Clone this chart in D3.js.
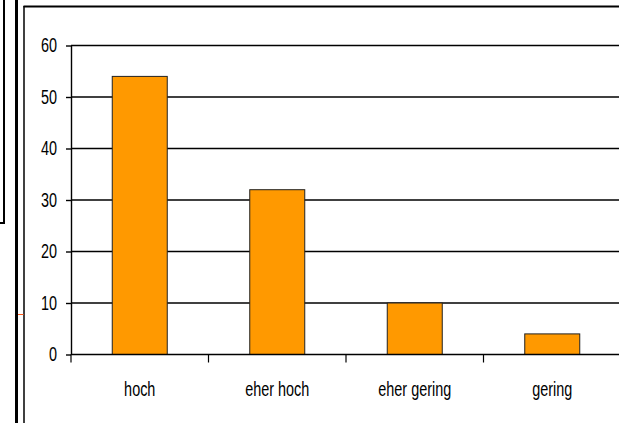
<!DOCTYPE html>
<html lang="de">
  <head>
    <meta charset="utf-8">
    <title>Balkendiagramm</title>
    <script src="https://d3js.org/d3.v7.js"></script>
    <style>
    body {margin: 0; background: white;}
    text {font-family: "Liberation Sans", Arial, sans-serif; fill: black;}
    </style>
  </head>
  <body>
  <script>

  var categories = ["hoch", "eher hoch", "eher gering", "gering"];
  var values = [54, 32, 10, 4];
  var yTicks = [0, 10, 20, 30, 40, 50, 60];

  var w = 619;
  var h = 423;
  var plot = {left: 71, right: 621, top: 45.5, bottom: 354.5};
  var squeeze = 0.74;   // the labels look horizontally condensed

  var svg = d3.select("body")
      .append("svg")
      .attr("width", w)
      .attr("height", h);

  // frame lines around the chart (page decoration)
  svg.append("line").attr("x1", 4).attr("x2", 4).attr("y1", 0).attr("y2", 223)
     .attr("stroke", "black").attr("stroke-width", 2);
  svg.append("line").attr("x1", 0).attr("x2", 5).attr("y1", 223).attr("y2", 223)
     .attr("stroke", "black").attr("stroke-width", 2);
  svg.append("line").attr("x1", 16.5).attr("x2", 16.5).attr("y1", 0).attr("y2", h)
     .attr("stroke", "black").attr("stroke-width", 3);
  svg.append("line").attr("x1", 24).attr("x2", 24).attr("y1", 6).attr("y2", h)
     .attr("stroke", "black").attr("stroke-width", 1.5);
  svg.append("line").attr("x1", 23.5).attr("x2", w).attr("y1", 6.5).attr("y2", 6.5)
     .attr("stroke", "black").attr("stroke-width", 2);
  svg.append("line").attr("x1", 18).attr("x2", 23.5).attr("y1", 314.5).attr("y2", 314.5)
     .attr("stroke", "#ff5a1a").attr("stroke-width", 1);

  var x = d3.scaleBand()
      .domain(categories)
      .range([plot.left, plot.right])
      .paddingInner(0.6)
      .paddingOuter(0.3);

  var y = d3.scaleLinear()
      .domain([0, 60])
      .range([plot.bottom, plot.top]);

  // gridlines
  svg.selectAll(".grid")
     .data(yTicks.filter(d => d > 0))
     .join("line")
     .attr("class", "grid")
     .attr("x1", plot.left)
     .attr("x2", plot.right)
     .attr("y1", d => y(d))
     .attr("y2", d => y(d))
     .attr("stroke", "black")
     .attr("stroke-width", 1.4);

  // bars
  svg.selectAll(".bar")
     .data(values)
     .join("rect")
     .attr("class", "bar")
     .attr("x", (d, i) => x(categories[i]))
     .attr("y", d => y(d))
     .attr("width", x.bandwidth())
     .attr("height", d => y(0) - y(d))
     .attr("fill", "#ff9900")
     .attr("stroke", "#222")
     .attr("stroke-width", 1);

  // y axis
  var yAxis = d3.axisLeft(y)
      .tickValues(yTicks)
      .tickSize(5)
      .tickSizeOuter(0)
      .tickPadding(9);
  var gy = svg.append("g")
      .attr("transform", `translate(${plot.left},0)`)
      .call(yAxis);
  gy.selectAll("path, line").attr("stroke", "black").attr("stroke-width", 1.4);
  gy.selectAll("text")
    .style("font-size", "19.5px")
    .attr("font-family", null)
    .attr("fill", "black")
    .attr("x", -14 / squeeze)
    .attr("transform", `scale(${squeeze},1)`);

  // x axis line and category boundary ticks
  svg.append("line")
     .attr("x1", plot.left).attr("x2", plot.right)
     .attr("y1", y(0)).attr("y2", y(0))
     .attr("stroke", "black").attr("stroke-width", 1.6);
  svg.selectAll(".xtick")
     .data(d3.range(categories.length + 1))
     .join("line")
     .attr("class", "xtick")
     .attr("x1", i => plot.left + i * x.step())
     .attr("x2", i => plot.left + i * x.step())
     .attr("y1", y(0))
     .attr("y2", y(0) + 8)
     .attr("stroke", "black")
     .attr("stroke-width", 1.2);

  svg.selectAll(".xlabel")
     .data(categories)
     .join("text")
     .attr("class", "xlabel")
     .attr("transform", d => `translate(${x(d) + x.bandwidth() / 2},396) scale(${squeeze},1)`)
     .attr("text-anchor", "middle")
     .style("font-size", "19.5px")
     .text(d => d);

  </script>
  </body>
</html>
